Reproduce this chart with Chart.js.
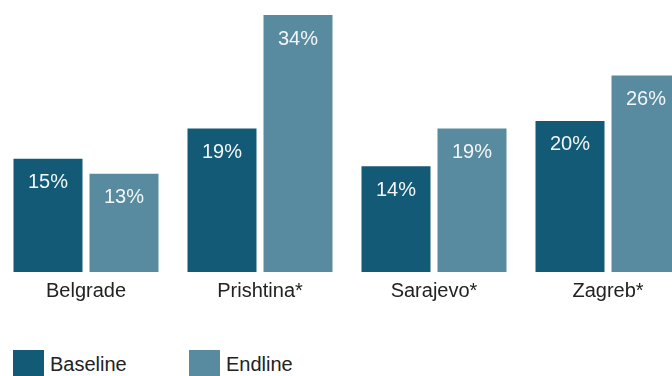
<!DOCTYPE html>
<html>
<head>
<meta charset="utf-8">
<script src="https://cdn.jsdelivr.net/npm/chart.js@4"></script>
<style>
  body { margin: 0; background: #fff; overflow: hidden; width: 672px; height: 376px; position: relative; font-family: "Liberation Sans", Arial, sans-serif; }
  .wrap { position: absolute; left: -1px; top: 0; width: 696px; height: 310px; }
  .legend { position: absolute; left: 13px; top: 349px; display: flex; }
  .item { display: flex; align-items: center; margin-right: 0; }
  .box { width: 31px; height: 27px; }
  .txt { font-size: 20px; color: #222; margin-left: 6px; line-height: 27px; margin-top: 2px; }
</style>
</head>
<body>
<div class="wrap"><canvas id="c"></canvas></div>
<div class="legend" id="legend"></div>
<script>
const cities = ['Belgrade', 'Prishtina*', 'Sarajevo*', 'Zagreb*'];
const baseline = [15, 19, 14, 20];
const endline = [13, 34, 19, 26];
const seriesNames = ['Baseline', 'Endline'];
const colors = ['#125a76', '#588ba0'];

// values printed inside the top of each bar
const barLabels = {
  id: 'barLabels',
  afterDatasetsDraw(chart) {
    const ctx = chart.ctx;
    ctx.save();
    ctx.fillStyle = '#f2f6f8';
    ctx.font = '20px "Liberation Sans", Arial, sans-serif';
    ctx.textAlign = 'center';
    ctx.textBaseline = 'middle';
    chart.data.datasets.forEach((ds, i) => {
      chart.getDatasetMeta(i).data.forEach((bar, j) => {
        ctx.fillText(ds.data[j] + '%', bar.x, bar.y + 24);
      });
    });
    ctx.restore();
  }
};

new Chart(document.getElementById('c'), {
  type: 'bar',
  data: {
    labels: cities,
    datasets: [
      { label: seriesNames[0], data: baseline, backgroundColor: colors[0] },
      { label: seriesNames[1], data: endline, backgroundColor: colors[1] }
    ]
  },
  options: {
    responsive: true,
    maintainAspectRatio: false,
    animation: false,
    layout: { padding: 0 },
    categoryPercentage: 0.8736,
    barPercentage: 0.908,
    plugins: { legend: { display: false }, tooltip: { enabled: false } },
    scales: {
      x: {
        grid: { display: false, drawTicks: false },
        border: { display: false },
        ticks: { color: '#222', padding: 7, font: { size: 20, family: '"Liberation Sans", Arial, sans-serif' } }
      },
      y: { display: false, min: 0, max: 36 }
    }
  },
  plugins: [barLabels]
});

const legend = document.getElementById('legend');
seriesNames.forEach((name, i) => {
  const item = document.createElement('div');
  item.className = 'item';
  item.style.width = i === 0 ? '176px' : 'auto';
  item.innerHTML = '<div class="box" style="background:' + colors[i] + '"></div><div class="txt">' + name + '</div>';
  legend.appendChild(item);
});
</script>
</body>
</html>
